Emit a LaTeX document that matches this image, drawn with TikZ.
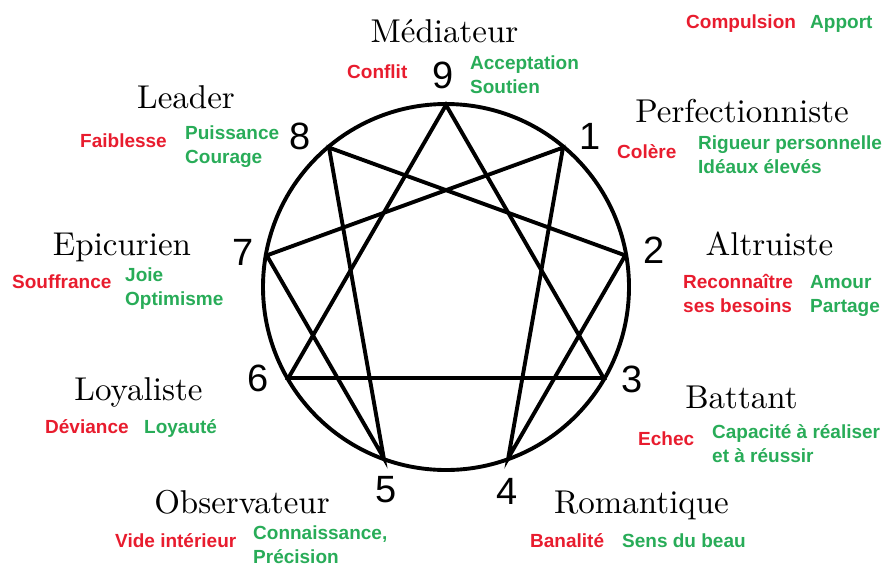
\documentclass[tikz,border=0pt]{standalone}
\usepackage{fontspec}
\usetikzlibrary{calc}
\newfontfamily\labfont{Liberation Sans}
\newfontfamily\titlefont{lmroman10-regular}[Extension=.otf]
\definecolor{negred}{RGB}{232,28,46}
\definecolor{posgreen}{RGB}{40,172,88}
\begin{document}
\begin{tikzpicture}[x=1pt,y=-1pt,
  typetitle/.style={anchor=base,inner sep=0pt,font=\titlefont\fontsize{33}{40}\selectfont},
  typedigit/.style={anchor=center,inner sep=0pt,font=\labfont\fontsize{38}{40}\selectfont},
  neglabel/.style={anchor=base west,inner sep=0pt,align=left,text=negred,font=\labfont\bfseries\fontsize{19}{24}\selectfont},
  poslabel/.style={anchor=base west,inner sep=0pt,align=left,text=posgreen,font=\labfont\bfseries\fontsize{19}{24}\selectfont},
  figline/.style={line width=3.9pt,line join=miter,black}]
\useasboundingbox (0,0) rectangle (886,566);
% circle and vertices
\coordinate (c) at (446,287);
\draw[figline] (c) circle[radius=183];
\foreach \k in {0,...,8}{
  \coordinate (p\k) at ($(c)+({cos(90-40*\k)*182},{-sin(90-40*\k)*182})$);
}
\draw[figline] (p0) -- (p3) -- (p6) -- cycle;
\draw[figline] (p1) -- (p4) -- (p2) -- (p8) -- (p5) -- (p7) -- cycle;
% digits
\node[typedigit] (d9) at (443,75) {9};
\node[typedigit] (d1) at (590,136) {1};
\node[typedigit] (d2) at (654,250) {2};
\node[typedigit] (d3) at (632,379) {3};
\node[typedigit] (d4) at (507,491) {4};
\node[typedigit] (d5) at (386,490) {5};
\node[typedigit] (d6) at (258,378) {6};
\node[typedigit] (d7) at (243,252) {7};
\node[typedigit] (d8) at (300,136) {8};
% titles
\node[typetitle] (t9) at (444.5,42) {Médiateur};
\node[typetitle] (t1) at (742,122) {Perfectionniste};
\node[typetitle] (t2) at (769.5,255) {Altruiste};
\node[typetitle] (t8) at (186,108) {Leader};
\node[typetitle] (t7) at (122,255) {Epicurien};
\node[typetitle] (t6) at (138.5,400) {Loyaliste};
\node[typetitle] (t5) at (242,513) {Observateur};
\node[typetitle] (t3) at (741.5,408) {Battant};
\node[typetitle] (t4) at (641.5,513) {Romantique};
% legend
\node[neglabel] (lc) at (686,28) {Compulsion};
\node[poslabel] (la) at (810,28) {Apport};
% labels (base anchor = last line)
\node[neglabel] (n9) at (347,78) {Conflit};
\node[poslabel] (g9) at (470,93.5) {Acceptation\\Soutien};
\node[neglabel] (n8) at (80,147.5) {Faiblesse};
\node[poslabel] (g8) at (185,163.5) {Puissance\\Courage};
\node[neglabel] (n1) at (617,158.5) {Colère};
\node[poslabel] (g1) at (698,173.5) {Rigueur personnelle\\Idéaux élevés};
\node[neglabel] (n2) at (683,312.5) {Reconnaître\\ses besoins};
\node[poslabel] (g2) at (810,312.5) {Amour\\Partage};
\node[neglabel] (n7) at (12,288.5) {Souffrance};
\node[poslabel] (g7) at (125,305.5) {Joie\\Optimisme};
\node[neglabel] (n6) at (45,433.5) {Déviance};
\node[poslabel] (g6) at (144,433.5) {Loyauté};
\node[neglabel] (n5) at (115,547.5) {Vide intérieur};
\node[poslabel] (g5) at (253,563.5) {Connaissance,\\Précision};
\node[neglabel] (n3) at (638,445.5) {Echec};
\node[poslabel] (g3) at (712,462.5) {Capacité à réaliser\\et à réussir};
\node[neglabel] (n4) at (530,547.5) {Banalité};
\node[poslabel] (g4) at (622,547.5) {Sens du beau};
\end{tikzpicture}
\end{document}
